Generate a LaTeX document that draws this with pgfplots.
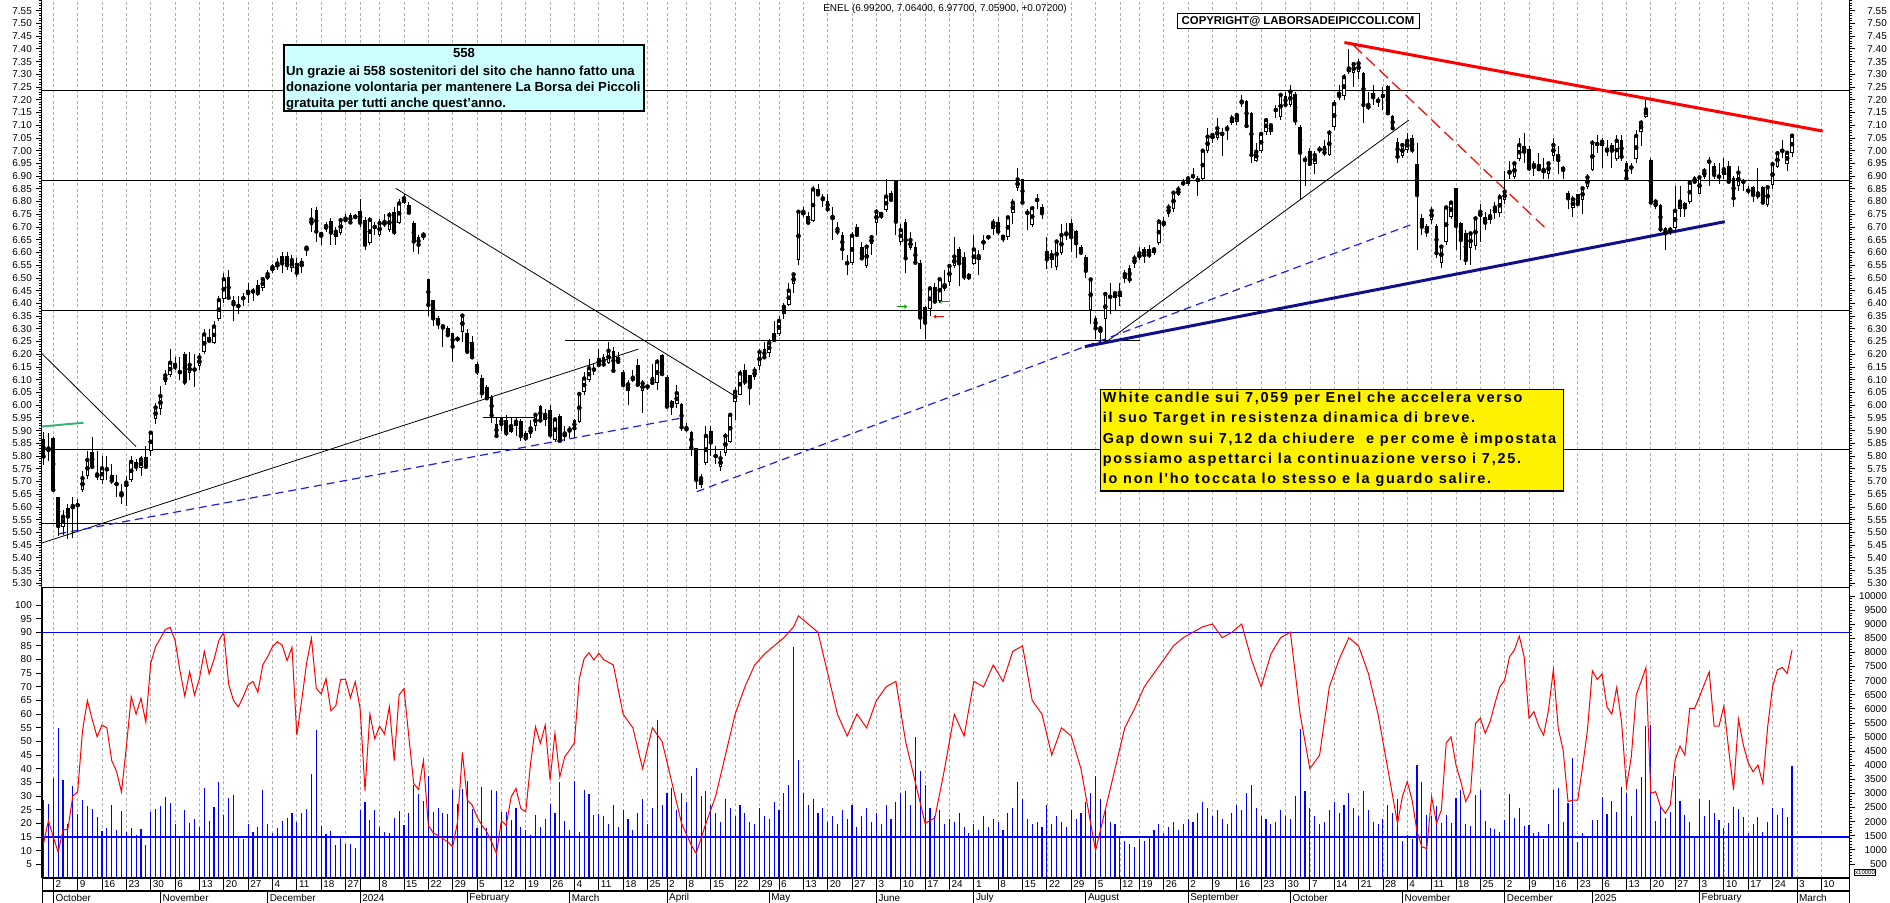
\documentclass[border=0pt]{standalone}
\usepackage{pgfplots}
\pgfplotsset{compat=1.18}
\usepackage{pgfplotstable}
\usepackage{fontspec}
\setmainfont{Liberation Sans}
\newfontfamily\notefont[LetterSpace=12]{Liberation Sans}
\usetikzlibrary{arrows.meta}

\definecolor{cyanbox}{RGB}{204,255,255}
\definecolor{navyline}{RGB}{16,16,140}
\definecolor{gridgray}{RGB}{175,175,175}
\definecolor{greenline}{RGB}{60,179,113}
\definecolor{dashblue}{RGB}{30,30,235}

% x = trading day, 0 = 2 Oct 2023
\pgfplotstableread{
x o h l c
-2 5.866 5.896 5.765 5.798
-1 5.82 5.89 5.78 5.83
0 5.87 5.875 5.66 5.667
1 5.64 5.64 5.484 5.525
2 5.523 5.59 5.49 5.562
3 5.595 5.61 5.475 5.562
4 5.595 5.64 5.477 5.604
5 5.607 5.63 5.50 5.607
6 5.667 5.74 5.66 5.713
7 5.72 5.82 5.71 5.785
8 5.817 5.876 5.75 5.758
9 5.719 5.82 5.706 5.728
10 5.706 5.80 5.69 5.752
11 5.748 5.80 5.706 5.748
12 5.726 5.77 5.69 5.703
13 5.69 5.726 5.64 5.69
14 5.638 5.69 5.61 5.654
15 5.677 5.72 5.605 5.696
16 5.706 5.80 5.70 5.778
17 5.778 5.79 5.74 5.758
18 5.752 5.80 5.72 5.787
19 5.797 5.84 5.75 5.758
20 5.82 5.90 5.80 5.892
21 5.944 6.01 5.925 5.991
22 5.984 6.075 5.96 6.036
23 6.092 6.14 6.08 6.117
24 6.117 6.22 6.11 6.167
25 6.164 6.19 6.14 6.15
26 6.13 6.19 6.10 6.13
27 6.201 6.21 6.08 6.092
28 6.125 6.21 6.10 6.158
29 6.14 6.20 6.07 6.14
30 6.154 6.205 6.14 6.188
31 6.208 6.30 6.20 6.278
32 6.266 6.30 6.25 6.253
33 6.243 6.33 6.24 6.309
34 6.337 6.43 6.33 6.413
35 6.416 6.52 6.40 6.495
36 6.503 6.53 6.42 6.422
37 6.413 6.43 6.33 6.396
38 6.39 6.43 6.36 6.39
39 6.42 6.44 6.39 6.42
40 6.452 6.48 6.40 6.44
41 6.447 6.46 6.41 6.447
42 6.472 6.49 6.43 6.44
43 6.46 6.50 6.45 6.495
44 6.495 6.53 6.49 6.515
45 6.529 6.555 6.52 6.542
46 6.542 6.58 6.53 6.557
47 6.586 6.60 6.52 6.557
48 6.586 6.60 6.53 6.55
49 6.538 6.59 6.525 6.57
50 6.56 6.58 6.505 6.52
51 6.542 6.58 6.52 6.56
52 6.607 6.625 6.585 6.619
53 6.708 6.775 6.68 6.73
54 6.767 6.78 6.64 6.682
55 6.66 6.68 6.63 6.673
56 6.692 6.72 6.68 6.704
57 6.725 6.735 6.63 6.678
58 6.66 6.70 6.63 6.682
59 6.675 6.735 6.67 6.727
60 6.74 6.75 6.72 6.727
61 6.747 6.755 6.71 6.718
62 6.74 6.75 6.73 6.74
63 6.763 6.81 6.70 6.717
64 6.728 6.74 6.61 6.63
65 6.636 6.74 6.63 6.728
66 6.70 6.72 6.67 6.70
67 6.669 6.73 6.66 6.715
68 6.708 6.75 6.70 6.72
69 6.688 6.76 6.68 6.747
70 6.76 6.78 6.67 6.68
71 6.715 6.81 6.71 6.793
72 6.796 6.83 6.79 6.813
73 6.786 6.80 6.75 6.756
74 6.715 6.725 6.60 6.643
75 6.66 6.67 6.595 6.63
76 6.66 6.68 6.65 6.67
77 6.495 6.495 6.35 6.394
78 6.413 6.413 6.31 6.341
79 6.341 6.35 6.30 6.32
80 6.315 6.32 6.23 6.305
81 6.302 6.31 6.27 6.275
82 6.282 6.285 6.17 6.23
83 6.26 6.27 6.25 6.26
84 6.289 6.36 6.25 6.352
85 6.282 6.30 6.20 6.21
86 6.25 6.27 6.18 6.188
87 6.162 6.17 6.12 6.132
88 6.105 6.12 6.03 6.047
89 6.073 6.08 6.02 6.027
90 6.034 6.04 5.93 5.96
91 5.926 5.95 5.87 5.879
92 5.948 5.955 5.90 5.926
93 5.942 5.96 5.88 5.89
94 5.896 5.95 5.89 5.918
95 5.918 5.955 5.88 5.935
96 5.938 5.945 5.86 5.879
97 5.892 5.90 5.86 5.87
98 5.887 5.94 5.87 5.909
99 5.918 5.97 5.90 5.962
100 5.997 6.00 5.93 5.94
101 5.94 5.985 5.92 5.962
102 5.981 6.00 5.87 5.883
103 5.863 5.95 5.855 5.944
104 5.957 5.965 5.85 5.86
105 5.876 5.92 5.86 5.889
106 5.909 5.92 5.87 5.90
107 5.94 5.945 5.87 5.909
108 5.935 6.05 5.93 6.044
109 6.053 6.13 6.04 6.105
110 6.099 6.18 6.09 6.145
111 6.14 6.16 6.12 6.14
112 6.184 6.22 6.15 6.158
113 6.19 6.20 6.15 6.16
114 6.165 6.25 6.16 6.214
115 6.214 6.23 6.13 6.135
116 6.19 6.21 6.16 6.17
117 6.132 6.14 6.07 6.079
118 6.057 6.10 6.00 6.082
119 6.099 6.14 6.09 6.108
120 6.158 6.18 6.07 6.08
121 6.057 6.10 5.97 6.086
122 6.073 6.08 6.06 6.073
123 6.112 6.16 6.08 6.088
124 6.086 6.18 6.06 6.171
125 6.197 6.20 6.12 6.122
126 6.112 6.12 5.99 5.994
127 6.018 6.02 5.96 5.997
128 6.004 6.08 5.99 6.047
129 6.004 6.01 5.90 5.913
130 5.915 5.93 5.90 5.905
131 5.896 5.90 5.80 5.833
132 5.83 5.83 5.67 5.706
133 5.686 5.73 5.675 5.713
134 5.772 5.92 5.765 5.879
135 5.899 5.92 5.80 5.853
136 5.80 5.84 5.77 5.80
137 5.758 5.82 5.74 5.791
138 5.813 5.89 5.80 5.879
139 5.857 5.97 5.85 5.962
140 6.014 6.07 5.94 6.053
141 6.04 6.14 6.04 6.125
142 6.14 6.16 6.08 6.092
143 6.118 6.12 6.00 6.07
144 6.112 6.15 6.10 6.136
145 6.154 6.22 6.14 6.209
146 6.22 6.25 6.18 6.188
147 6.206 6.26 6.19 6.245
148 6.285 6.33 6.25 6.256
149 6.28 6.35 6.27 6.331
150 6.357 6.40 6.34 6.387
151 6.394 6.48 6.39 6.45
152 6.475 6.52 6.44 6.514
153 6.57 6.76 6.55 6.76
154 6.748 6.78 6.74 6.76
155 6.743 6.76 6.71 6.717
156 6.725 6.86 6.72 6.848
157 6.848 6.87 6.82 6.828
158 6.817 6.83 6.78 6.809
159 6.804 6.83 6.76 6.77
160 6.73 6.78 6.65 6.74
161 6.70 6.72 6.67 6.682
162 6.669 6.68 6.57 6.613
163 6.558 6.59 6.51 6.558
164 6.558 6.68 6.55 6.666
165 6.70 6.71 6.66 6.669
166 6.62 6.64 6.57 6.577
167 6.547 6.63 6.54 6.623
168 6.633 6.67 6.59 6.66
169 6.717 6.77 6.67 6.76
170 6.76 6.76 6.73 6.743
171 6.767 6.89 6.76 6.82
172 6.833 6.84 6.80 6.807
173 6.883 6.885 6.67 6.721
174 6.642 6.71 6.63 6.688
175 6.721 6.73 6.52 6.577
176 6.616 6.68 6.61 6.649
177 6.62 6.64 6.55 6.56
178 6.56 6.57 6.30 6.344
179 6.387 6.39 6.26 6.324
180 6.377 6.47 6.35 6.459
181 6.466 6.48 6.40 6.407
182 6.409 6.50 6.40 6.495
183 6.459 6.53 6.45 6.472
184 6.485 6.55 6.47 6.547
185 6.547 6.66 6.54 6.584
186 6.612 6.62 6.47 6.557
187 6.584 6.60 6.49 6.505
188 6.515 6.52 6.49 6.502
189 6.555 6.67 6.55 6.612
190 6.57 6.61 6.51 6.586
191 6.64 6.67 6.61 6.64
192 6.66 6.67 6.65 6.66
193 6.691 6.73 6.67 6.717
194 6.721 6.74 6.67 6.682
195 6.669 6.67 6.64 6.655
196 6.66 6.74 6.65 6.738
197 6.756 6.81 6.71 6.796
198 6.852 6.93 6.84 6.887
199 6.887 6.89 6.79 6.796
200 6.756 6.77 6.69 6.756
201 6.708 6.78 6.70 6.774
202 6.806 6.83 6.77 6.806
203 6.777 6.79 6.73 6.754
204 6.607 6.66 6.535 6.573
205 6.57 6.61 6.54 6.59
206 6.544 6.65 6.53 6.643
207 6.597 6.71 6.59 6.669
208 6.668 6.715 6.65 6.675
209 6.717 6.73 6.60 6.66
210 6.686 6.69 6.58 6.636
211 6.623 6.63 6.59 6.599
212 6.581 6.59 6.50 6.528
213 6.374 6.50 6.32 6.494
214 6.344 6.35 6.26 6.302
215 6.285 6.31 6.25 6.302
216 6.337 6.445 6.25 6.437
217 6.426 6.48 6.36 6.426
218 6.42 6.445 6.37 6.44
219 6.424 6.48 6.39 6.442
220 6.494 6.53 6.48 6.515
221 6.538 6.55 6.48 6.494
222 6.555 6.59 6.54 6.577
223 6.577 6.62 6.57 6.597
224 6.612 6.62 6.56 6.59
225 6.612 6.63 6.58 6.59
226 6.599 6.62 6.59 6.612
227 6.639 6.73 6.63 6.721
228 6.708 6.74 6.70 6.717
229 6.751 6.79 6.74 6.777
230 6.77 6.84 6.76 6.835
231 6.826 6.86 6.82 6.848
232 6.872 6.89 6.86 6.872
233 6.869 6.90 6.86 6.891
234 6.90 6.93 6.89 6.90
235 6.885 6.90 6.82 6.885
236 6.887 7.0 6.88 7.0
237 7.0 7.09 6.99 7.055
238 7.045 7.07 7.03 7.062
239 7.05 7.13 7.04 7.088
240 7.066 7.09 6.98 7.066
241 7.081 7.10 7.04 7.088
242 7.107 7.14 7.10 7.127
243 7.114 7.14 7.10 7.14
244 7.186 7.22 7.17 7.193
245 7.196 7.20 7.09 7.097
246 7.147 7.15 6.95 6.983
247 6.961 7.03 6.955 6.996
248 7.0 7.07 6.99 7.066
249 7.075 7.13 7.06 7.12
250 7.075 7.11 7.06 7.1
251 7.16 7.18 7.13 7.16
252 7.131 7.22 7.12 7.219
253 7.215 7.23 7.17 7.18
254 7.18 7.26 7.17 7.232
255 7.223 7.23 7.10 7.118
256 7.092 7.10 6.81 6.992
257 6.964 6.98 6.86 6.964
258 7.0 7.01 6.94 6.948
259 6.948 7.00 6.91 6.983
260 7.005 7.02 6.99 7.005
261 7.018 7.04 6.98 6.992
262 6.983 7.08 6.98 7.071
263 7.092 7.20 7.08 7.184
264 7.232 7.26 7.20 7.215
265 7.215 7.30 7.20 7.289
266 7.31 7.40 7.30 7.323
267 7.304 7.35 7.25 7.34
268 7.31 7.36 7.28 7.343
269 7.306 7.31 7.11 7.18
270 7.163 7.23 7.16 7.18
271 7.228 7.26 7.18 7.21
272 7.196 7.21 7.17 7.196
273 7.215 7.25 7.16 7.215
274 7.254 7.26 7.14 7.147
275 7.136 7.14 7.08 7.088
276 7.035 7.05 6.95 6.976
277 6.979 7.03 6.97 7.022
278 7.003 7.07 6.99 7.039
279 7.048 7.06 6.99 7.003
280 6.946 7.03 6.61 6.826
281 6.734 6.75 6.67 6.701
282 6.704 6.71 6.66 6.682
283 6.728 6.78 6.71 6.764
284 6.704 6.71 6.58 6.597
285 6.56 6.62 6.54 6.623
286 6.642 6.78 6.63 6.777
287 6.741 6.80 6.73 6.796
288 6.852 6.852 6.61 6.704
289 6.714 6.72 6.57 6.649
290 6.675 6.69 6.55 6.57
291 6.616 6.68 6.55 6.675
292 6.626 6.745 6.61 6.734
293 6.74 6.79 6.64 6.76
294 6.74 6.76 6.69 6.717
295 6.728 6.77 6.71 6.743
296 6.754 6.80 6.73 6.777
297 6.754 6.83 6.74 6.817
298 6.806 6.92 6.79 6.839
299 6.91 6.96 6.89 6.917
300 6.895 6.95 6.89 6.95
301 6.966 7.05 6.96 7.022
302 7.018 7.07 6.95 6.996
303 7.005 7.02 6.92 6.93
304 6.93 6.96 6.90 6.944
305 6.947 6.99 6.92 6.927
306 6.915 6.97 6.89 6.924
307 6.91 6.96 6.89 6.95
308 6.979 7.05 6.96 7.022
309 6.987 7.02 6.91 6.963
310 6.935 6.94 6.89 6.924
311 6.832 6.84 6.77 6.813
312 6.773 6.82 6.74 6.809
313 6.83 6.83 6.785 6.79
314 6.806 6.86 6.75 6.852
315 6.858 6.91 6.85 6.895
316 6.924 7.04 6.92 7.031
317 7.026 7.06 6.99 7.026
318 7.02 7.05 6.93 7.035
319 7.009 7.04 6.98 7.0
320 7.022 7.03 6.93 7.0
321 6.966 7.06 6.96 7.039
322 7.042 7.06 6.96 6.976
323 6.953 6.96 6.88 6.891
324 6.934 6.95 6.91 6.934
325 6.966 7.08 6.95 7.058
326 7.075 7.12 7.02 7.11
327 7.134 7.20 7.13 7.162
328 6.963 6.97 6.79 6.796
329 6.777 6.81 6.77 6.80
330 6.787 6.79 6.68 6.691
331 6.695 6.70 6.61 6.675
332 6.681 6.70 6.67 6.69
333 6.695 6.86 6.68 6.764
334 6.77 6.86 6.74 6.80
335 6.796 6.80 6.74 6.777
336 6.80 6.88 6.79 6.874
337 6.895 6.90 6.87 6.878
338 6.83 6.90 6.83 6.895
339 6.898 6.93 6.89 6.921
340 6.957 6.975 6.86 6.957
341 6.94 6.95 6.89 6.905
342 6.898 6.95 6.87 6.898
343 6.905 6.97 6.89 6.927
344 6.94 6.96 6.87 6.878
345 6.891 6.90 6.78 6.813
346 6.861 6.94 6.84 6.914
347 6.878 6.89 6.84 6.878
348 6.843 6.86 6.83 6.843
349 6.856 6.86 6.80 6.826
350 6.817 6.93 6.81 6.832
351 6.856 6.86 6.79 6.796
352 6.787 6.86 6.78 6.856
353 6.865 6.95 6.85 6.947
354 6.937 7.0 6.93 6.99
355 7.0 7.04 6.97 7.0
356 6.948 7.0 6.92 6.992
357 6.992 7.064 6.977 7.059
}\candles

\pgfplotstableread{
x v
-2 12.6
-1 21
0 15
1 9.5
2 17.5
3 18
4 30
5 31.5
6 54
7 65
8 58
9 51.7
10 56
11 55
12 43
13 39
14 31.5
15 48
16 66.4
17 60
18 65.8
19 57
20 78.6
21 84.7
22 87.8
23 91
24 91.8
25 87
26 76
27 66.6
28 75.5
29 67
30 73
31 83
32 74.7
33 80
34 87
35 90
36 71
37 65
38 62.7
39 66.4
40 70.7
41 72
42 68
43 78
44 81
45 84.7
46 86.5
47 85.3
48 79.6
49 84.5
50 52.3
51 65
52 78.6
53 87.8
54 69.4
55 67.4
56 73
57 61.2
58 63
59 72.7
60 72.7
61 66
62 71.9
63 62
64 32
65 60
66 51
67 55.6
68 52.7
69 62.7
70 43
71 67
72 69.4
73 51.7
74 34.6
75 32.4
76 43
77 19.3
78 16.5
79 15.6
80 14.4
81 13.2
82 11.4
83 20.5
84 46
85 28.5
86 26.7
87 22.4
88 19.3
89 16.9
90 13.2
91 8.9
92 21
93 19.3
94 29.7
95 32.8
96 25.4
97 24.2
98 42
99 55.4
100 49.3
101 56
102 35.8
103 53
104 37
105 44.4
106 46.8
107 49.5
108 73
109 80.4
110 82.5
111 79.8
112 82.3
113 80
115 78
117 60
119 55
121 40
123 55
125 50
127 35
129 20
131 12
132 9
134 20
136 30
138 45
140 60
142 70
144 78
146 82
148 85
150 88
152 92
153 96
155 93
157 90
159 75
161 60
163 52
165 60
167 55
169 65
171 70
173 72
175 50
177 35
179 20
181 22
183 40
185 60
187 52
189 72
191 70
193 78
195 72
197 83
199 85
201 65
203 60
205 45
207 55
209 52
211 40
213 20
214 10
216 25
218 40
220 55
222 62
224 70
226 75
228 80
230 85
232 88
234 90
236 92
238 93
240 88
242 90
244 93
246 80
248 70
250 82
252 88
254 90
256 60
258 40
260 45
262 70
264 80
266 88
268 85
270 75
272 60
274 40
276 20
277 29.8
278 35.3
279 28.5
280 17
281 11.4
282 10.8
283 29.8
284 20
285 24.9
286 49.5
287 51.7
288 41.4
289 35.3
290 28
291 31.6
292 56.6
293 58.5
294 53
295 57.2
296 64
297 70
298 72.5
299 81
300 83.5
301 88.6
302 81
303 58.5
304 60.9
305 55.6
306 52.3
307 61.5
308 76.4
309 54.8
310 46.9
311 28
312 28.5
313 28.5
314 40.8
315 54.2
316 75.9
317 72.7
318 74.7
319 62.7
320 60
321 69.8
322 57.2
323 33.4
324 44.4
325 67
326 71.9
327 77.1
328 31
329 31.6
330 26.1
331 23.7
332 26.7
333 43.2
334 48.3
335 45
336 62.1
337 62.1
338 66.4
339 71
340 75.5
341 55.6
342 55.6
343 63
344 46.9
345 32.2
346 58.1
347 48.7
348 42.2
349 38.9
350 41.4
351 34.6
352 55.4
353 70
354 76.2
355 77.1
356 74.9
357 83.5
}\osc

\pgfplotstableread{
x v
-2 2756
-1 2614
0 3549
1 5324
2 3466
3 1930
4 3253
5 2260
6 2756
7 2543
8 2460
9 2165
10 1668
11 1774
12 2602
13 1692
14 2366
15 1632
16 1774
17 1514
18 1727
19 1159
20 2342
21 2437
22 2543
23 2874
24 2662
25 1928
26 1479
27 2401
28 1952
29 2082
30 1810
31 3194
32 2023
33 2520
34 3407
35 2224
36 2839
37 2934
38 1455
39 1396
40 1928
41 1632
42 1810
43 3111
44 1904
45 1597
46 1786
47 2023
48 2129
49 2307
50 1987
51 2307
52 2437
53 3679
54 5264
55 1834
56 1550
57 1656
58 1159
59 1455
60 1195
61 1195
62 1065
63 2401
64 2697
65 2070
66 2401
67 1810
68 1632
69 1597
70 2141
71 2378
72 1869
73 2307
74 3289
75 2969
76 2733
77 3620
78 2342
79 2496
80 2307
81 2260
82 3135
83 2614
84 3170
85 3431
86 2460
87 1786
88 3230
89 1786
90 3111
91 3088
92 2342
93 2342
94 2070
95 2496
96 1810
97 1692
98 1514
99 2224
100 1810
101 2106
102 2638
103 2307
104 3407
105 2023
106 1692
107 3442
108 1632
109 3111
110 2969
111 2224
112 2260
113 2200
114 1900
115 2600
116 1800
117 2400
118 2100
119 1700
120 2300
121 2800
122 1900
123 2500
124 5600
125 2600
126 3000
127 3200
128 2400
129 3000
130 2700
131 3600
132 3900
133 2900
134 3100
135 2600
136 2300
137 2000
138 2800
139 2500
140 2200
141 2600
142 2300
143 2000
144 1900
145 2500
146 2200
147 2100
148 2700
149 2400
150 3000
151 3300
152 8200
153 4200
154 3000
155 2600
156 2800
157 2300
158 2500
159 2000
160 2200
161 1900
162 2400
163 2100
164 2600
165 1800
166 2200
167 2500
168 2000
169 2300
170 1900
171 2600
172 2100
173 2700
174 3000
175 3100
176 2600
177 5000
178 3800
179 3300
180 2500
181 2200
182 2400
183 1900
184 2100
185 2000
186 2300
187 1800
188 1600
189 1900
190 1700
191 2200
192 1800
193 2100
194 2000
195 1700
196 2300
197 2500
198 3400
199 2800
200 2100
201 1900
202 2000
203 1800
204 2600
205 1900
206 2200
207 2000
208 1800
209 2400
210 2100
211 2300
212 2700
213 3000
214 3600
215 2800
216 2400
217 2000
218 1900
219 1500
220 1300
221 1200
222 1100
223 1400
224 1300
225 1500
226 1700
227 1900
228 1600
229 1800
230 2000
231 1700
232 1900
233 2100
234 2000
235 2300
236 2700
237 2500
238 2200
239 2400
240 2100
241 1900
242 2300
243 2600
244 2400
245 3000
246 3300
247 2500
248 2200
249 2100
250 1900
251 2000
252 2400
253 2200
254 2100
255 2900
256 5300
257 3100
258 2500
259 2200
260 1900
261 2000
262 2400
263 2700
264 2300
265 2600
266 3000
267 2500
268 2200
269 3100
270 2400
271 2000
272 1900
273 2100
274 2600
275 2300
276 2800
277 1324
278 1525
279 1371
280 4007
281 3416
282 2234
283 2200
284 2550
285 1939
286 2234
287 1939
288 2825
289 3120
290 1915
291 1844
292 2943
293 3120
294 2021
295 1761
296 1726
297 1643
298 2057
299 2979
300 2116
301 2471
302 1844
303 1880
304 1584
305 1643
306 1383
307 1915
308 3120
309 3180
310 1998
311 2671
312 4267
313 1289
314 1584
315 1430
316 2057
317 2057
318 2884
319 2270
320 2731
321 2341
322 3215
323 3002
324 2199
325 3156
326 3593
327 5390
328 5426
329 2021
330 2553
331 2116
332 2341
333 3629
334 2731
335 2234
336 1998
337 1490
338 2801
339 2199
340 2766
341 2317
342 2057
343 1761
344 1962
345 2518
346 2447
347 2163
348 1584
349 1915
350 2163
351 1631
352 1998
353 2482
354 2234
355 2482
356 2163
357 3972
}\vol

\def\weekticks{0,5,10,15,20,25,30,35,40,45,50,55,60,63,67,72,77,82,87,92,97,102,107,112,117,122,126,130,135,140,145,149,154,159,164,169,174,179,184,189,194,199,204,209,214,219,223,228,233,238,243,248,253,258,263,268,273,278,283,288,293,298,303,308,313,318,323,328,333,338,343,348,353,358,363}

\pgfplotsset{
  enel/.style={
    scale only axis, width=1807bp, xmin=-2.32, xmax=368.7,
    enlargelimits=false,
    tick label style={font=\fontsize{10}{12}\selectfont},
    /pgf/number format/assume math mode=true,
    tick align=outside, major tick length=6bp, minor tick length=3bp,
    tick style={black, line width=0.8bp},
    axis line style={line width=1bp},
    xtick/.expand once=\weekticks, xticklabels={},
    major x tick style={draw=none},
    major x grid style={gridgray, line width=0.7bp, dash pattern=on 3bp off 2.5bp},
  },
}

\begin{document}
\begin{tikzpicture}
\useasboundingbox (0bp,0bp) rectangle (1890bp,903bp);

% price panel
\begin{axis}[enel, at={(42bp,315bp)}, anchor=south west, height=589bp,
  ymin=5.2816, ymax=7.596, ytick distance=0.05, minor y tick num=4,
  ytick pos=both, yticklabel pos=left, xmajorgrids,
  yticklabel style={/pgf/number format/fixed, /pgf/number format/fixed zerofill,
    /pgf/number format/precision=2, anchor=east, inner sep=0pt, xshift=-4bp}]
% support and resistance
\addplot[black, line width=1bp] coordinates {(-3,7.237) (370,7.237)};
\addplot[black, line width=1bp] coordinates {(-3,6.884) (370,6.884)};
\addplot[black, line width=1bp] coordinates {(-3,6.373) (370,6.373)};
\addplot[black, line width=1bp] coordinates {(-3,5.825) (370,5.825)};
\addplot[black, line width=1bp] coordinates {(-3,5.536) (370,5.536)};
\addplot[black, line width=1bp] coordinates {(105.1,6.256) (223.1,6.256)};
\addplot[black, line width=1bp] coordinates {(88.2,5.951) (99.3,5.951)};
% trend lines
\addplot[black, line width=0.8bp] coordinates {(-2.4,6.204) (17.0,5.837)};
\addplot[black, line width=0.8bp] coordinates {(-2.4,5.458) (120.1,6.22)};
\addplot[black, line width=0.8bp] coordinates {(70.3,6.852) (139.6,6.04)};
\addplot[black, line width=0.8bp] coordinates {(216.3,6.25) (278.3,7.12)};
\addplot[dashblue, line width=1.2bp, dash pattern=on 8bp off 5bp] coordinates {(1.0,5.494) (129.4,5.951)};
\addplot[dashblue, line width=1.2bp, dash pattern=on 8bp off 5bp] coordinates {(132.1,5.66) (278.6,6.708)};
\addplot[navyline, line width=3bp] coordinates {(211.8,6.23) (343.2,6.721)};
\addplot[red, line width=3bp] coordinates {(265.1,7.425) (363.3,7.077)};
\addplot[red, line width=1.2bp, dash pattern=on 12bp off 6bp] coordinates {(266.9,7.415) (306.3,6.697)};
\addplot[greenline, line width=2bp] coordinates {(-2.4,5.916) (6.2,5.931)};
\addplot[green!60!black, line width=1.5bp, -{Stealth[length=3bp,width=4.5bp]}] coordinates {(173.2,6.387) (175.3,6.387)};
\addplot[green!60!black, line width=1.5bp, -{Stealth[length=3bp,width=4.5bp]}] coordinates {(183.9,6.407) (181.8,6.407)};
\addplot[red, line width=1.5bp, -{Stealth[length=3bp,width=4.5bp]}] coordinates {(182.8,6.348) (180.7,6.348)};
% candles: wicks, bodies, white interiors
\addplot[only marks, mark=none, error bars/.cd, y dir=both, y explicit, error mark=none,
  error bar style={black, line width=0.9bp}]
  table[x=x, y=c, y error plus expr=\thisrow{h}-\thisrow{c}, y error minus expr=\thisrow{c}-\thisrow{l}] {\candles};
\addplot[only marks, mark=none, error bars/.cd, y dir=both, y explicit, error mark=none,
  error bar style={black, line width=3.6bp}]
  table[x=x, y expr=(\thisrow{o}+\thisrow{c})/2, y error expr={max(abs(\thisrow{c}-\thisrow{o})/2,0.002)}] {\candles};
\addplot[only marks, mark=none, restrict expr to domain={\thisrow{c}-\thisrow{o}}{0.009:10},
  error bars/.cd, y dir=both, y explicit, error mark=none,
  error bar style={white, line width=1.6bp}]
  table[x=x, y expr=(\thisrow{o}+\thisrow{c})/2, y error expr={abs(\thisrow{c}-\thisrow{o})/2-0.004}] {\candles};
\end{axis}

% right price labels
\begin{axis}[enel, at={(42bp,315bp)}, anchor=south west, height=589bp,
  ymin=5.2816, ymax=7.596, ytick distance=0.05, minor y tick num=4,
  axis x line=none, axis y line*=right,
  yticklabel style={/pgf/number format/fixed, /pgf/number format/fixed zerofill,
    /pgf/number format/precision=2, anchor=east, inner sep=0pt, xshift=32bp}]
\addplot[draw=none] coordinates {(0,6)};
\end{axis}

% volume
\begin{axis}[enel, at={(42bp,25bp)}, anchor=south west, height=290bp,
  ymin=0, ymax=10284, ytick={500,1000,...,10000}, minor y tick num=4,
  ytick pos=right, yticklabel pos=right, scaled y ticks=false, xmajorgrids,
  yticklabel style={/pgf/number format/1000 sep={}, anchor=east, inner sep=0pt, xshift=32bp}]
\addplot[ycomb, blue, line width=1.1bp] table[x=x, y=v] {\vol};
\end{axis}

% oscillator
\begin{axis}[enel, at={(42bp,25bp)}, anchor=south west, height=290bp,
  ymin=0, ymax=106.2, ytick={5,10,...,100},
  axis x line=none, axis y line*=left,
  yticklabel style={anchor=east, inner sep=0pt, xshift=-4bp}]
\addplot[blue, line width=1.3bp] coordinates {(-3,90) (370,90)};
\addplot[blue, line width=1.3bp] coordinates {(-3,15) (370,15)};
\addplot[red, line width=1bp] table[x=x, y=v] {\osc};
\end{axis}

% day row
\begin{axis}[enel, at={(42bp,12bp)}, anchor=south west, height=13bp,
  ymin=0, ymax=1, ytick=\empty, tick align=inside, xmajorgrids,
  major x grid style={black, solid, line width=0.8bp},
  xticklabels={2,9,16,23,30,6,13,20,27,4,11,18,27,{},8,15,22,29,5,12,19,26,4,11,18,25,2,8,15,22,29,6,13,20,27,3,10,17,24,1,8,15,22,29,5,12,19,26,2,9,16,23,30,7,14,21,28,4,11,18,25,2,9,16,23,6,13,20,27,3,10,17,24,3,10},
  xticklabel style={anchor=west, inner sep=0pt, xshift=2bp, yshift=6.5bp}]
\addplot[draw=none] coordinates {(0,0.5)};
\end{axis}

% month row
\begin{axis}[enel, at={(42bp,-1bp)}, anchor=south west, height=13bp,
  ymin=0, ymax=1, ytick=\empty, tick align=inside, xmajorgrids,
  major x grid style={black, solid, line width=0.8bp},
  xtick={0,22,44,63,85,106,126,147,169,189,212,233,254,277,298,316,338,358},
  xticklabels={October,November,December,2024,February,March,April,May,June,July,August,September,October,November,December,2025,February,March},
  xticklabel style={anchor=west, inner sep=0pt, xshift=2bp, yshift=6bp}]
\addplot[draw=none] coordinates {(0,0.5)};
\end{axis}

% notes
\node[font=\fontsize{10}{12}\selectfont] at (945bp,894bp) {ENEL (6.99200, 7.06400, 6.97700, 7.05900, +0.07200)};
\node[draw=black, line width=1bp, fill=white, minimum width=242bp, minimum height=15bp, inner sep=0pt,
  font=\bfseries\fontsize{11.4}{13}\selectfont] at (1298bp,881.5bp) {COPYRIGHT@ LABORSADEIPICCOLI.COM};
\draw[black, line width=2bp, fill=cyanbox] (284bp,858bp) rectangle (644bp,792bp);
\begin{scope}[every node/.style={inner sep=0pt, font=\bfseries\fontsize{13.2}{15}\selectfont}]
\node at (464bp,850bp) {558};
\node[anchor=west] at (286bp,831bp) {Un grazie ai 558 sostenitori del sito che hanno fatto una};
\node[anchor=west] at (286bp,815bp) {donazione volontaria per mantenere La Borsa dei Piccoli};
\node[anchor=west] at (286bp,799bp) {gratuita per tutti anche quest'anno.};
\end{scope}
\draw[black, line width=1.5bp, fill=yellow] (1100.7bp,513.7bp) rectangle (1563.3bp,412bp);
\begin{scope}[every node/.style={inner sep=0pt, anchor=west, font=\notefont\bfseries\fontsize{14.5}{16}\selectfont}]
\node at (1102.7bp,504bp) {White candle sui 7,059 per Enel che accelera verso};
\node at (1102.7bp,484bp) {il suo Target in resistenza dinamica di breve.};
\node at (1102.7bp,463bp) {Gap down sui 7,12 da chiudere\ \ e per come è impostata};
\node at (1102.7bp,443bp) {possiamo aspettarci la continuazione verso i 7,25.};
\node at (1102.7bp,423bp) {Io non l'ho toccata lo stesso e la guardo salire.};
\end{scope}
\node[draw=black, line width=0.5bp, fill=white, inner sep=0.8bp, font=\fontsize{6}{7}\selectfont] at (1865bp,30.5bp) {x10000};
\end{tikzpicture}
\end{document}
